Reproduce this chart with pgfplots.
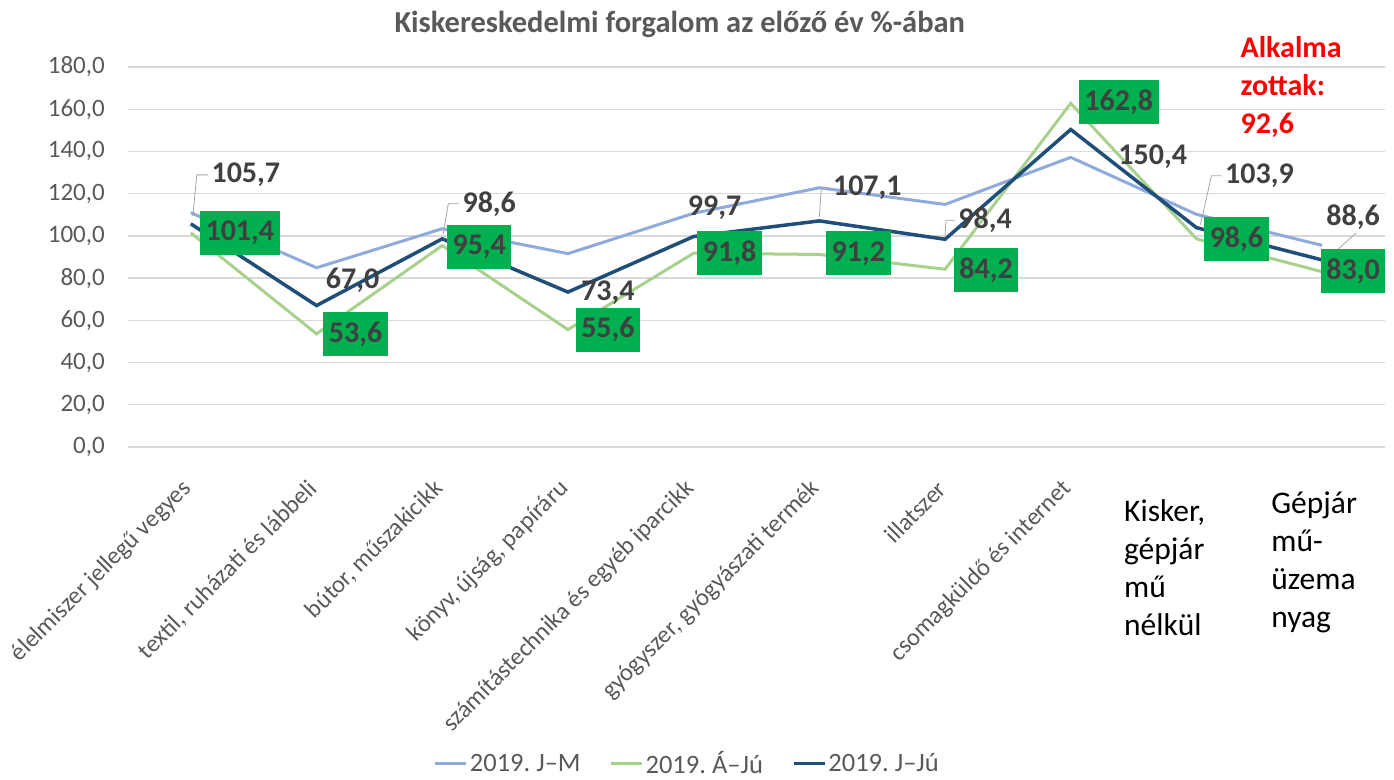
\documentclass[border=0pt]{standalone}
\usepackage{pgfplots}
\pgfplotsset{compat=1.18}
\usepackage{pgfplotstable}
\usepackage{fontspec}
\setmainfont{Carlito}
\frenchspacing
\definecolor{cblue}{HTML}{8FAADC}
\definecolor{cgreen}{HTML}{A9D18E}
\definecolor{cnavy}{HTML}{1F4E79}
\definecolor{cgrid}{HTML}{D9D9D9}
\definecolor{ctext}{HTML}{595959}
\definecolor{clabel}{HTML}{404040}
\definecolor{cbox}{HTML}{00B050}
\definecolor{cred}{HTML}{FF0000}
\definecolor{clead}{HTML}{A6A6A6}
\newcommand{\fs}[2]{\fontsize{#1bp}{#2bp}\selectfont}

\pgfplotstableread{
x jm aju jju gdx gdy ndx ndy
0 111.0 101.4 105.7 49 0 55 49
1 84.9 53.6 67.0 39 0 36 25
2 103.4 95.4 98.6 37 -1 47 35
3 91.6 55.6 73.4 40 0 40 -1
4 110.7 91.8 99.7 36 0 21 29
5 122.8 91.2 107.1 39 1 48 33
6 114.9 84.2 98.4 41 -1 40 19
7 137.2 162.8 150.4 48 1 82 -27
8 110.2 98.6 103.9 40 0 63 52
9 95.5 83.0 88.6 31 1 31 43
}\datatable

\begin{document}
\begin{tikzpicture}
\begin{axis}[
  scale only axis, width=1257bp, height=380bp,
  xmin=-0.5, xmax=9.5, ymin=0, ymax=180,
  clip=false,
  axis line style={draw=none},
  tick style={draw=none},
  ytick={0,20,...,180},
  ymajorgrids,
  grid style={cgrid, line width=1.3bp},
  /pgf/number format/assume math mode=true,
  yticklabel={\pgfmathprintnumber[fixed, fixed zerofill, precision=1, use comma]{\tick}},
  yticklabel style={font=\fs{25}{30}, text=ctext, inner sep=0pt, anchor=east},
  yticklabel shift=23bp,
  xtick={0,...,7},
  xticklabels={élelmiszer jellegű vegyes, {textil, ruházati és lábbeli}, {bútor, műszakicikk}, {könyv, újság, papíráru}, számítástechnika és egyéb iparcikk, {gyógyszer, gyógyászati termék}, illatszer, csomagküldő és internet},
  xticklabel style={font=\fs{24.5}{29}, text=ctext, inner sep=0pt, xshift=-3bp, yshift=-38bp, rotate=45, anchor=east},
  legend columns=3,
  legend style={at={(0.445,-0.833)}, anchor=center, draw=none, fill=none,
    font=\fs{26.5}{31}, text=ctext,
    /tikz/every even column/.append style={column sep=27bp}},
  legend image code/.code={\draw[#1] (0bp,0bp) -- (31bp,0bp);},
]
\addplot[cblue, line width=3bp] table[x=x, y=jm]{\datatable};
\addplot[cgreen, line width=3bp] table[x=x, y=aju]{\datatable};
\addplot[cnavy, line width=3.5bp] table[x=x, y=jju]{\datatable};
\legend{2019. J–M, 2019. Á–Jú, 2019. J–Jú}

% leader lines
\draw[clead, line width=0.8bp] ([xshift=2bp,yshift=8bp]axis cs:0,105.7) -- ([xshift=6bp,yshift=49bp]axis cs:0,105.7) -- ([xshift=17bp,yshift=49bp]axis cs:0,105.7);
\draw[clead, line width=0.8bp] ([xshift=1bp,yshift=5bp]axis cs:2,98.6) -- ([xshift=6bp,yshift=35bp]axis cs:2,98.6) -- ([xshift=17bp,yshift=35bp]axis cs:2,98.6);
\draw[clead, line width=0.8bp] ([xshift=0bp,yshift=4bp]axis cs:5,107.1) -- ([xshift=2bp,yshift=33bp]axis cs:5,107.1) -- ([xshift=11bp,yshift=33bp]axis cs:5,107.1);
\draw[clead, line width=0.8bp] ([xshift=0bp,yshift=4bp]axis cs:6,98.4) -- ([xshift=1bp,yshift=19bp]axis cs:6,98.4) -- ([xshift=10bp,yshift=19bp]axis cs:6,98.4);
\draw[clead, line width=0.8bp] ([xshift=4bp,yshift=3bp]axis cs:8,103.9) -- ([xshift=15bp,yshift=52bp]axis cs:8,103.9) -- ([xshift=25bp,yshift=52bp]axis cs:8,103.9);
\draw[clead, line width=0.8bp] ([xshift=6bp,yshift=2bp]axis cs:9,88.6) -- ([xshift=34bp,yshift=27bp]axis cs:9,88.6);

% labels of J-Ju
\addplot[draw=none, forget plot,
  nodes near coords={\pgfmathprintnumber[fixed, fixed zerofill, precision=1, use comma]{\pgfplotspointmeta}},
  point meta=y,
  visualization depends on={\thisrow{ndx}\as\lblx},
  visualization depends on={\thisrow{ndy}\as\lbly},
  every node near coord/.style={anchor=center, xshift=\lblx bp, yshift=\lbly bp, inner sep=0pt,
    font=\bfseries\fs{30}{36}, text=clabel}]
  table[x=x, y=jju]{\datatable};
% labels of A-Ju
\addplot[draw=none, forget plot,
  nodes near coords={\pgfmathprintnumber[fixed, fixed zerofill, precision=1, use comma]{\pgfplotspointmeta}},
  point meta=y,
  visualization depends on={\thisrow{gdx}\as\lblx},
  visualization depends on={\thisrow{gdy}\as\lbly},
  every node near coord/.style={anchor=center, xshift=\lblx bp, yshift=\lbly bp, inner xsep=5.5bp,
    minimum height=44bp, fill=cbox, font=\bfseries\fs{30}{36}, text=clabel}]
  table[x=x, y=aju]{\datatable};

% title
\node[anchor=base, font=\bfseries\fs{30.5}{36}, text=ctext, inner sep=0pt] at (rel axis cs:0.439,1.0895) {Kiskereskedelmi forgalom az előző év \%-ában};
% red note (base = last line)
\node[anchor=base west, align=left, font=\bfseries\fs{30}{38}, text=cred, inner sep=0pt] at (rel axis cs:0.885,0.826) {Alkalma\\zottak:\\92,6};
% last two category labels (base = last line)
\node[anchor=base west, align=left, font=\fs{31.5}{38}, text=black, inner sep=0pt] at ([xshift=-72.5bp, yshift=-189bp]axis cs:8,0) {Kisker,\\gépjár\\mű\\nélkül};
\node[anchor=base west, align=left, font=\fs{31.5}{38}, text=black, inner sep=0pt] at ([xshift=-51bp, yshift=-181bp]axis cs:9,0) {Gépjár\\mű-\\üzema\\nyag};
\end{axis}
\path ([shift={(-128bp,-329bp)}]current axis.south west) rectangle ([shift={(9bp,67bp)}]current axis.north east);
\end{tikzpicture}
\end{document}
